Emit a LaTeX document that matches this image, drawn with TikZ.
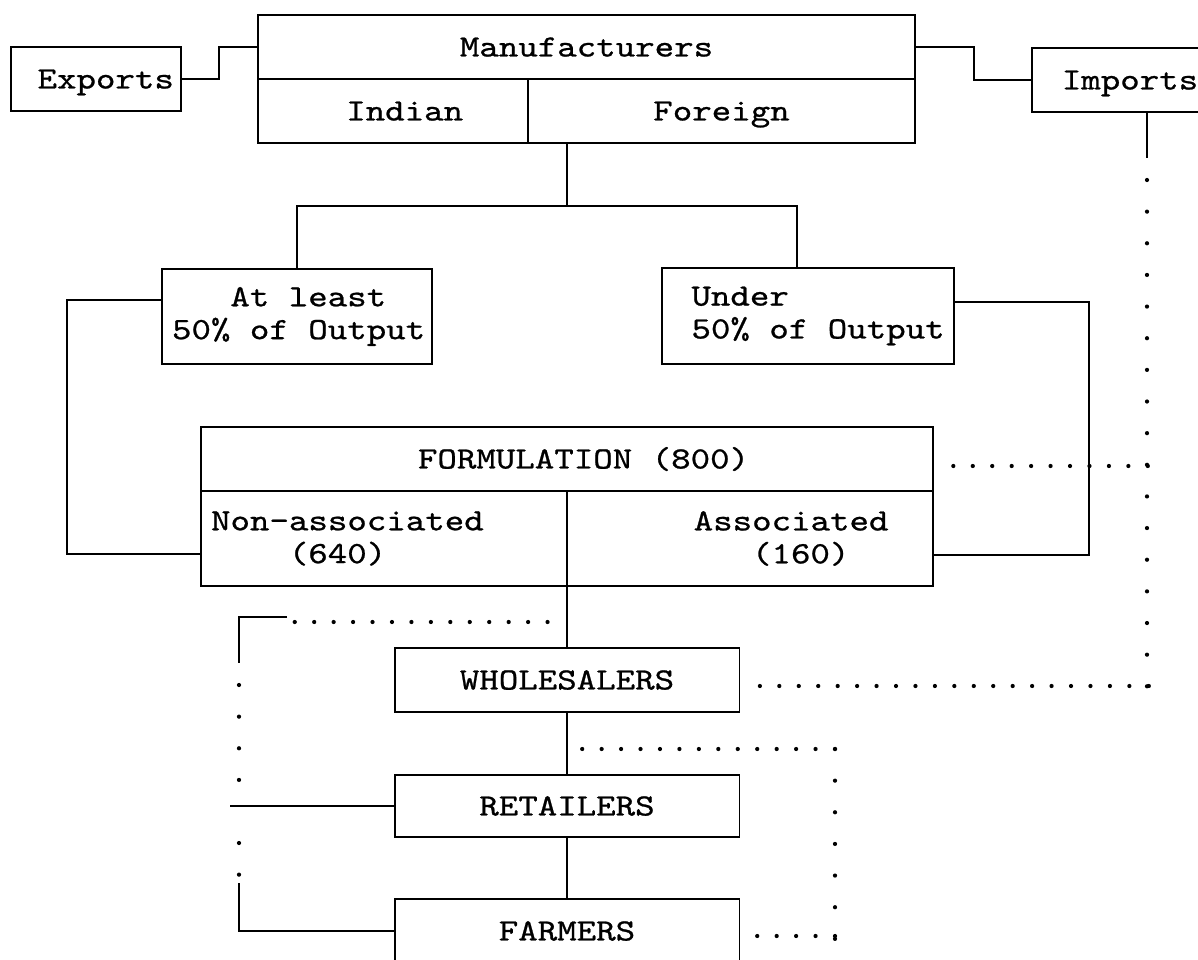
\documentclass[tikz,border=0pt]{standalone}
\usepackage{fontspec}
\newfontfamily\typed[FakeStretch=1.2,FakeBold=0.8]{lmmono10-regular.otf}
\newcommand\boxfont{\typed\fontsize{17.6pt}{18.7pt}\selectfont}
\newlength\pitch
\setlength\pitch{0.389cm}
\newcommand\gap{\kern\pitch}
\tikzset{
  cell/.style={draw,line width=1.1pt,minimum width=#1,minimum height=1.28cm,inner sep=0pt,text height=10.8pt,text depth=0pt,font=\boxfont},
  lcell/.style={draw,line width=1.1pt,align=left,text width=#1,inner xsep=0.2cm,inner ysep=0pt,minimum height=1.9cm,font=\boxfont},
  link/.style={line width=1.1pt},
  hdots/.style={line width=2.4pt,line cap=round,dash pattern=on 0pt off 0.389cm},
  vdots/.style={line width=2.4pt,line cap=round,dash pattern=on 0pt off 0.633cm}
}
\begin{document}
\begin{tikzpicture}[x=0.02cm,y=-0.02cm]
  \useasboundingbox (0,0) rectangle (1198,960);

  \node[cell=13.14cm] (manu) at (586.5,47) {Manufacturers};
  \node[cell=5.4cm] (indian) at (393,111) {\hspace*{1.2\pitch}Indian};
  \node[cell=7.74cm] (foreign) at (721.5,111) {Foreign};
  \node[cell=3.4cm] (exports) at (96,79) {\hspace*{\pitch}Exports};
  \node[cell=3.92cm] (imports) at (1130,80) {Imports};

  \node[lcell=5.0cm] (least) at (297,316.5) {\hspace*{3\pitch}At\gap least\\50\%\gap of\gap Output};
  \node[lcell=5.44cm,minimum height=1.92cm] (under) at (808,316) {\hspace*{\pitch}Under\\\hspace*{\pitch}50\%\gap of\gap Output};

  \node[cell=14.64cm] (formtop) at (567,459) {\hspace*{1.7\pitch}FORMULATION\gap (800)};
  \node[lcell=6.92cm] (nonassoc) at (384,538.5) {Non-associated\\\hspace*{4\pitch}(640)};
  \node[lcell=6.92cm] (assoc) at (750,538.5) {\hspace*{6\pitch}Associated\\\hspace*{9\pitch}(160)};

  \node[cell=6.9cm] (whole) at (567,680) {WHOLESALERS};
  \node[cell=6.9cm,minimum height=1.24cm] (retail) at (567,806) {RETAILERS};
  \node[cell=6.9cm] (farm) at (567,931) {FARMERS};

  \draw[link] (exports.east) -- (219,79) |- (manu.west);
  \draw[link] (manu.east) -- (974,47) |- (imports.west);

  \draw[link] (foreign.south -| formtop.north) -- (formtop.north |- 0,206);
  \draw[link] (least.north) |- (797,206) -- (under.north -| 797,0);
  \draw[link] (least.west |- 0,300) -| (67,554) -- (nonassoc.west |- 0,554);
  \draw[link] (under.east |- 0,302) -| (1089,555) -- (assoc.east |- 0,555);

  \draw[link] (whole.north |- nonassoc.south) -- (whole.north);
  \draw[link] (whole.south) -- (retail.north);
  \draw[link] (retail.south) -- (farm.north);

  \draw[link] (imports.south -| 1147,0) -- (1147,158);
  \draw[vdots] (1147,180) -- (1147,687);
  \draw[hdots,shorten <=0.389cm] (formtop.east |- 0,466) -- (1148,466);
  \draw[hdots,shorten <=0.389cm] (whole.east |- 0,686) -- (1149,686);

  \draw[hdots] (835,749) -- (whole.south |- 0,749);
  \draw[vdots] (835,749) -- (835,940);
  \draw[hdots,shorten >=0.3cm] (835,936) -- (farm.east |- 0,936);

  \draw[hdots,shorten <=0.389cm] (whole.south |- 0,622) -- (293,622);
  \draw[link] (287,617) -- (239,617) -- (239,663);
  \draw[vdots] (239,685) -- (239,781);
  \draw[link] (retail.west) -- (230,806);
  \draw[vdots] (239,843) -- (239,875);
  \draw[link] (farm.west) -| (239,883);
\end{tikzpicture}
\end{document}
